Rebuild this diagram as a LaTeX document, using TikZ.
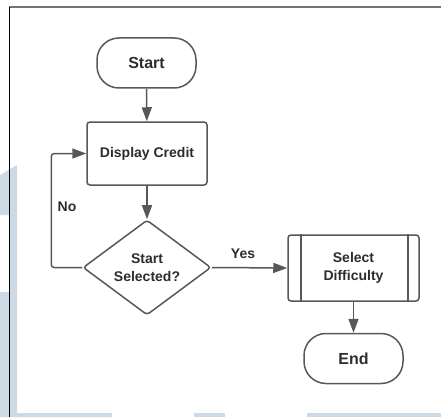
\documentclass[tikz,border=0pt]{standalone}
\usepackage{fontspec}
\setmainfont{Liberation Sans}
\usetikzlibrary{shapes.geometric,arrows.meta}
\definecolor{wm}{RGB}{205,217,228}
\definecolor{ln}{RGB}{88,88,88}
\definecolor{tx}{RGB}{45,45,45}
\tikzset{
  base/.style={draw=ln, line width=1.5pt, fill=white, text=tx, font=\bfseries\fontsize{14}{17.5}\selectfont, align=center, inner sep=0pt},
  term/.style={base, rectangle, rounded corners=22pt, minimum width=99pt, minimum height=50pt, font=\bfseries\fontsize{16}{19}\selectfont},
  proc/.style={base, rectangle, rounded corners=3pt, minimum width=120pt, minimum height=63pt},
  dec/.style={base, diamond, rounded corners=3pt, minimum width=128pt, minimum height=95pt, aspect=1.35},
  pre/.style={base, rectangle, rounded corners=3pt, minimum width=131pt, minimum height=66pt},
  conn/.style={draw=ln, line width=1.5pt, -{Triangle[length=14pt,width=10pt]}},
  lbl/.style={text=tx, font=\bfseries\fontsize{14}{17}\selectfont, inner sep=0pt}
}
\begin{document}
\begin{tikzpicture}[x=1pt,y=-1pt]
\useasboundingbox (0,0) rectangle (441,417);
\fill[white] (0,0) rectangle (441,417);
% watermark shapes
\fill[wm] (0,175) -- (17,165) -- (17,413) -- (112,413) -- (112,417) -- (0,417) -- (0,292) -- (9,292) -- (9,215) -- (0,215) -- cycle;
\fill[wm] (194,413) rectangle (225,417);
\fill[wm] (307,413) rectangle (441,417);
% frame
\draw[color=gray!90!black, line width=1.3pt] (9,7) -- (441,7);
\draw[black, line width=1pt] (9.5,7) -- (9.5,417);
% nodes
\node[term] (start) at (146.5,63) {Start};
\node[proc] (disp) at (147,153.5) {Display Credit};
\node[dec] (sel) at (147,267.5) {Start\\Selected?};
\node[pre] (diff) at (353.5,268) {Select\\Difficulty};
\draw[draw=ln, line width=1.5pt] ([xshift=13.5pt]diff.north west) -- ([xshift=13.5pt]diff.south west);
\draw[draw=ln, line width=1.5pt] ([xshift=-12pt]diff.north east) -- ([xshift=-12pt]diff.south east);
\node[term] (end) at (353.5,358.5) {End};
% connectors
\draw[conn] (start) -- (disp);
\draw[conn] (disp) -- (sel);
\draw[conn] (sel.east) -- (diff.west);
\draw[conn] (diff) -- (end);
\draw[conn, rounded corners=3pt] (sel.west) -- ++(-31,0) |- (disp.west);
% labels
\node[lbl] (yes) at (243,254) {Yes};
\node[lbl] (no) at (67,207) {No};
\end{tikzpicture}
\end{document}
